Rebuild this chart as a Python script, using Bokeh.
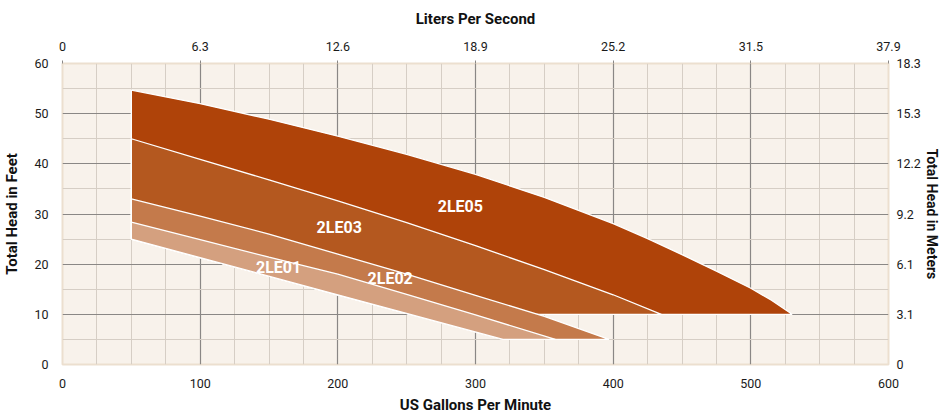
import numpy as np
from bokeh.plotting import figure
from bokeh.models import LinearAxis, FixedTicker, Label
from bokeh.embed import file_html
from bokeh.resources import INLINE

# ---- data ----
gpm_ticks = [0, 100, 200, 300, 400, 500, 600]
lps_labels = ["0", "6.3", "12.6", "18.9", "25.2", "31.5", "37.9"]
feet_ticks = [0, 10, 20, 30, 40, 50, 60]
meter_labels = ["0", "3.1", "6.1", "9.2", "12.2", "15.3", "18.3"]

models = ["2LE05", "2LE03", "2LE02", "2LE01"]
le05_gpm = [50, 100, 150, 200, 250, 300, 350, 400, 425, 450, 475, 500, 515, 530]
le05_ft = [54.7, 52.0, 48.9, 45.5, 41.9, 37.9, 33.3, 28.1, 25.1, 21.9, 18.6, 15.2, 12.8, 10.0]
le03_gpm = [50, 100, 150, 200, 250, 300, 350, 400, 435]
le03_ft = [45.0, 40.9, 36.8, 32.6, 28.3, 23.7, 18.9, 13.9, 10.0]
le02_gpm = [50, 100, 150, 200, 250, 300, 350, 397]
le02_ft = [33.0, 29.6, 26.0, 22.0, 18.0, 13.8, 9.6, 5.0]
le01_gpm = [50, 100, 150, 200, 250, 300, 358]
le01_ft = [28.4, 24.9, 21.4, 18.0, 14.0, 9.9, 5.0]
low_gpm = [50, 200, 320]
low_ft = [25.0, 13.9, 5.0]
floor_ft = [10, 10, 5, 5]
label_gpm = [289, 201, 238, 157]
label_ft = [31.5, 27.4, 17.1, 19.3]

colors = ["#af4309", "#b4581f", "#c47a4b", "#d4a07f"]
FONT = "Roboto, sans-serif"

p = figure(width=942, height=416, x_range=(0, 600), y_range=(0, 60),
           output_backend="svg", toolbar_location=None,
           min_border_left=62, min_border_right=53, min_border_top=63, min_border_bottom=49)
p.background_fill_color = "#f8f2eb"
p.border_fill_color = "white"
p.outline_line_color = "#ecdfcf"
p.outline_line_width = 2

minor_x = [v for v in range(25, 600, 25) if v % 100 != 0]
minor_y = [v for v in range(5, 60, 5) if v % 10 != 0]
bottom_ax = p.below[0]
left_ax = p.left[0]
bottom_ax.ticker = FixedTicker(ticks=gpm_ticks, minor_ticks=minor_x)
left_ax.ticker = FixedTicker(ticks=feet_ticks, minor_ticks=minor_y)
p.xgrid.grid_line_color = "#8a8785"
p.ygrid.grid_line_color = "#8a8785"
p.xgrid.grid_line_width = 1.2
p.ygrid.grid_line_width = 1.2
p.xgrid.minor_grid_line_color = "#d6cec5"
p.ygrid.minor_grid_line_color = "#d6cec5"

top_ax = LinearAxis(ticker=FixedTicker(ticks=gpm_ticks),
                    major_label_overrides={t: l for t, l in zip(gpm_ticks, lps_labels)},
                    axis_label="Liters Per Second")
right_ax = LinearAxis(ticker=FixedTicker(ticks=feet_ticks),
                      major_label_overrides={t: l for t, l in zip(feet_ticks, meter_labels)},
                      axis_label="Total Head in Meters")
p.add_layout(top_ax, "above")
p.add_layout(right_ax, "right")
bottom_ax.axis_label = "US Gallons Per Minute"
left_ax.axis_label = "Total Head in Feet"

for ax in [bottom_ax, left_ax, top_ax, right_ax]:
    ax.axis_line_color = None
    ax.minor_tick_line_color = None
    ax.major_tick_line_color = "#8a8785"
    ax.major_tick_in = 0
    ax.major_tick_out = 0
    ax.major_label_text_font = FONT
    ax.major_label_text_font_size = "12.5px"
    ax.major_label_text_color = "#1a1a1a"
    ax.axis_label_text_font = FONT
    ax.axis_label_text_font_size = "15px"
    ax.axis_label_text_font_style = "bold"
    ax.axis_label_text_color = "#111111"
top_ax.major_tick_out = 3
top_ax.major_label_standoff = 10
top_ax.axis_label_standoff = 11
bottom_ax.major_label_standoff = 10
bottom_ax.axis_label_standoff = 5
left_ax.major_label_standoff = 10
left_ax.axis_label_standoff = 10
right_ax.major_label_standoff = 8
right_ax.axis_label_standoff = 0
right_ax.axis_label_text_font_size = "14px"

lx = np.array(low_gpm, float)
ly = np.array(low_ft, float)


def band(tx, ty, floor):
    xf = float(np.interp(floor, ly[::-1], lx[::-1]))
    keep = lx < xf
    xs = list(tx) + [tx[-1], xf] + list(lx[keep][::-1])
    ys = list(ty) + [floor, floor] + list(ly[keep][::-1])
    return xs, ys


curves = [(le05_gpm, le05_ft), (le03_gpm, le03_ft), (le02_gpm, le02_ft), (le01_gpm, le01_ft)]
for (tx, ty), fl, c in zip(curves, floor_ft, colors):
    xs, ys = band(tx, ty, fl)
    p.patch(xs, ys, fill_color=c, line_color="white", line_width=1.3)

for name, gx, fy in zip(models, label_gpm, label_ft):
    p.add_layout(Label(x=gx, y=fy, text=name, text_align="center", text_baseline="middle",
                       text_color="white", text_font=FONT, text_font_size="16px",
                       text_font_style="bold"))

open("out.html", "w").write(file_html(p, INLINE))
